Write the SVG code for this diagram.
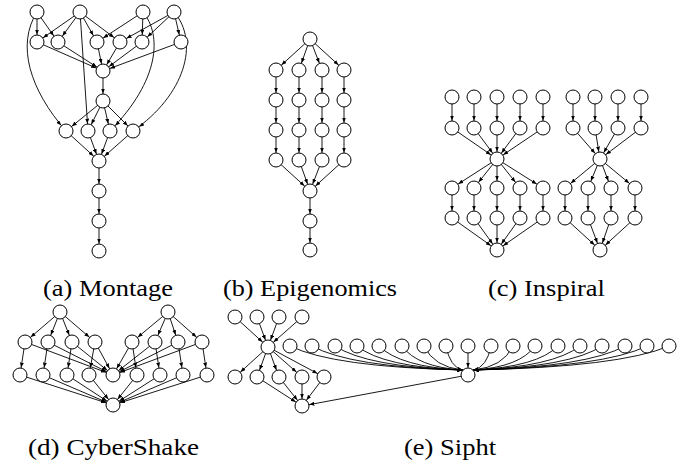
<svg xmlns="http://www.w3.org/2000/svg" width="699" height="464" viewBox="0 0 699 464">
<style>
.n circle{fill:#fff;stroke:#000;stroke-width:1}
#edges line,#edges path{stroke:#000;stroke-width:0.9;fill:none}
#edges .s{marker-end:url(#a)}
#edges .c{marker-end:url(#b)}
.cap{font-family:"Liberation Serif","DejaVu Serif",serif;font-size:23px;fill:#000}
</style>
<defs>
<marker id="a" viewBox="0 0 10 8" refX="25" refY="4" markerWidth="5" markerHeight="4" markerUnits="userSpaceOnUse" orient="auto"><path d="M0,0L10,4L0,8z" fill="#000"/></marker>
<marker id="b" viewBox="0 0 10 8" refX="10" refY="4" markerWidth="5" markerHeight="4" markerUnits="userSpaceOnUse" orient="auto"><path d="M0,0L10,4L0,8z" fill="#000"/></marker>
</defs>
<rect width="699" height="464" fill="#fff"/>
<g id="edges">
<!-- Montage -->
<line class="s" x1="37" y1="12" x2="37" y2="42"/>
<line class="s" x1="37" y1="12" x2="58" y2="42"/>
<line class="s" x1="80" y1="12" x2="37" y2="42"/>
<line class="s" x1="80" y1="12" x2="58" y2="42"/>
<line class="s" x1="80" y1="12" x2="97" y2="42"/>
<line class="s" x1="80" y1="12" x2="120" y2="42"/>
<line class="s" x1="143" y1="12" x2="97" y2="42"/>
<line class="s" x1="143" y1="12" x2="142" y2="42"/>
<line class="s" x1="174" y1="12" x2="120" y2="42"/>
<line class="s" x1="174" y1="12" x2="142" y2="42"/>
<line class="s" x1="174" y1="12" x2="181" y2="42"/>
<line class="s" x1="80" y1="12" x2="88" y2="131"/>
<path class="s" d="M37,12 C16,45 30,90 66,131"/>
<path class="s" d="M143,12 C162,35 160,80 110,131"/>
<path class="s" d="M174,12 C200,42 185,95 133,131"/>
<line class="s" x1="37" y1="42" x2="103" y2="71"/>
<line class="s" x1="58" y1="42" x2="103" y2="71"/>
<line class="s" x1="97" y1="42" x2="103" y2="71"/>
<line class="s" x1="120" y1="42" x2="103" y2="71"/>
<line class="s" x1="142" y1="42" x2="103" y2="71"/>
<line class="s" x1="181" y1="42" x2="103" y2="71"/>
<line class="s" x1="103" y1="71" x2="103" y2="101"/>
<line class="s" x1="103" y1="101" x2="66" y2="131"/>
<line class="s" x1="103" y1="101" x2="88" y2="131"/>
<line class="s" x1="103" y1="101" x2="110" y2="131"/>
<line class="s" x1="103" y1="101" x2="133" y2="131"/>
<line class="s" x1="66" y1="131" x2="99" y2="161"/>
<line class="s" x1="88" y1="131" x2="99" y2="161"/>
<line class="s" x1="110" y1="131" x2="99" y2="161"/>
<line class="s" x1="133" y1="131" x2="99" y2="161"/>
<line class="s" x1="99" y1="161" x2="99" y2="191"/>
<line class="s" x1="99" y1="191" x2="99" y2="221"/>
<line class="s" x1="99" y1="221" x2="99" y2="251"/>
<!-- Epigenomics -->
<line class="s" x1="310" y1="39" x2="276" y2="70"/>
<line class="s" x1="310" y1="39" x2="299" y2="70"/>
<line class="s" x1="310" y1="39" x2="322" y2="70"/>
<line class="s" x1="310" y1="39" x2="344" y2="70"/>
<line class="s" x1="276" y1="70" x2="276" y2="100"/>
<line class="s" x1="299" y1="70" x2="299" y2="100"/>
<line class="s" x1="322" y1="70" x2="322" y2="100"/>
<line class="s" x1="344" y1="70" x2="344" y2="100"/>
<line class="s" x1="276" y1="100" x2="276" y2="130"/>
<line class="s" x1="299" y1="100" x2="299" y2="130"/>
<line class="s" x1="322" y1="100" x2="322" y2="130"/>
<line class="s" x1="344" y1="100" x2="344" y2="130"/>
<line class="s" x1="276" y1="130" x2="276" y2="160"/>
<line class="s" x1="299" y1="130" x2="299" y2="160"/>
<line class="s" x1="322" y1="130" x2="322" y2="160"/>
<line class="s" x1="344" y1="130" x2="344" y2="160"/>
<line class="s" x1="276" y1="160" x2="310" y2="191"/>
<line class="s" x1="299" y1="160" x2="310" y2="191"/>
<line class="s" x1="322" y1="160" x2="310" y2="191"/>
<line class="s" x1="344" y1="160" x2="310" y2="191"/>
<line class="s" x1="310" y1="191" x2="310" y2="221"/>
<line class="s" x1="310" y1="221" x2="310" y2="250"/>
<!-- Inspiral 1 -->
<line class="s" x1="452" y1="97" x2="452" y2="128"/>
<line class="s" x1="474" y1="97" x2="474" y2="128"/>
<line class="s" x1="497" y1="97" x2="497" y2="128"/>
<line class="s" x1="520" y1="97" x2="520" y2="128"/>
<line class="s" x1="543" y1="97" x2="543" y2="128"/>
<line class="s" x1="452" y1="128" x2="497" y2="159"/>
<line class="s" x1="474" y1="128" x2="497" y2="159"/>
<line class="s" x1="497" y1="128" x2="497" y2="159"/>
<line class="s" x1="520" y1="128" x2="497" y2="159"/>
<line class="s" x1="543" y1="128" x2="497" y2="159"/>
<line class="s" x1="497" y1="159" x2="452" y2="188"/>
<line class="s" x1="497" y1="159" x2="474" y2="188"/>
<line class="s" x1="497" y1="159" x2="497" y2="188"/>
<line class="s" x1="497" y1="159" x2="520" y2="188"/>
<line class="s" x1="497" y1="159" x2="543" y2="188"/>
<line class="s" x1="452" y1="188" x2="452" y2="218"/>
<line class="s" x1="474" y1="188" x2="474" y2="218"/>
<line class="s" x1="497" y1="188" x2="497" y2="218"/>
<line class="s" x1="520" y1="188" x2="520" y2="218"/>
<line class="s" x1="543" y1="188" x2="543" y2="218"/>
<line class="s" x1="452" y1="218" x2="497" y2="250"/>
<line class="s" x1="474" y1="218" x2="497" y2="250"/>
<line class="s" x1="497" y1="218" x2="497" y2="250"/>
<line class="s" x1="520" y1="218" x2="497" y2="250"/>
<line class="s" x1="543" y1="218" x2="497" y2="250"/>
<!-- Inspiral 2 -->
<line class="s" x1="573" y1="97" x2="573" y2="128"/>
<line class="s" x1="595" y1="97" x2="595" y2="128"/>
<line class="s" x1="618" y1="97" x2="618" y2="128"/>
<line class="s" x1="641" y1="97" x2="641" y2="128"/>
<line class="s" x1="573" y1="128" x2="600" y2="159"/>
<line class="s" x1="595" y1="128" x2="600" y2="159"/>
<line class="s" x1="618" y1="128" x2="600" y2="159"/>
<line class="s" x1="641" y1="128" x2="600" y2="159"/>
<line class="s" x1="600" y1="159" x2="565" y2="188"/>
<line class="s" x1="600" y1="159" x2="588" y2="188"/>
<line class="s" x1="600" y1="159" x2="611" y2="188"/>
<line class="s" x1="600" y1="159" x2="635" y2="188"/>
<line class="s" x1="565" y1="188" x2="565" y2="218"/>
<line class="s" x1="588" y1="188" x2="588" y2="218"/>
<line class="s" x1="611" y1="188" x2="611" y2="218"/>
<line class="s" x1="635" y1="188" x2="635" y2="218"/>
<line class="s" x1="565" y1="218" x2="600" y2="250"/>
<line class="s" x1="588" y1="218" x2="600" y2="250"/>
<line class="s" x1="611" y1="218" x2="600" y2="250"/>
<line class="s" x1="635" y1="218" x2="600" y2="250"/>
<!-- CyberShake -->
<line class="s" x1="60" y1="312" x2="25" y2="342"/>
<line class="s" x1="60" y1="312" x2="48" y2="342"/>
<line class="s" x1="60" y1="312" x2="72" y2="342"/>
<line class="s" x1="60" y1="312" x2="95" y2="342"/>
<line class="s" x1="168" y1="312" x2="132" y2="342"/>
<line class="s" x1="168" y1="312" x2="155" y2="342"/>
<line class="s" x1="168" y1="312" x2="178" y2="342"/>
<line class="s" x1="168" y1="312" x2="202" y2="342"/>
<line class="s" x1="25" y1="342" x2="20" y2="375"/>
<line class="s" x1="48" y1="342" x2="43" y2="375"/>
<line class="s" x1="72" y1="342" x2="67" y2="375"/>
<line class="s" x1="95" y1="342" x2="89" y2="375"/>
<line class="s" x1="132" y1="342" x2="137" y2="375"/>
<line class="s" x1="155" y1="342" x2="160" y2="375"/>
<line class="s" x1="178" y1="342" x2="183" y2="375"/>
<line class="s" x1="202" y1="342" x2="207" y2="375"/>
<line class="s" x1="25" y1="342" x2="113" y2="375"/>
<line class="s" x1="48" y1="342" x2="113" y2="375"/>
<line class="s" x1="72" y1="342" x2="113" y2="375"/>
<line class="s" x1="95" y1="342" x2="113" y2="375"/>
<line class="s" x1="132" y1="342" x2="113" y2="375"/>
<line class="s" x1="155" y1="342" x2="113" y2="375"/>
<line class="s" x1="178" y1="342" x2="113" y2="375"/>
<line class="s" x1="202" y1="342" x2="113" y2="375"/>
<line class="s" x1="20" y1="375" x2="113" y2="405"/>
<line class="s" x1="43" y1="375" x2="113" y2="405"/>
<line class="s" x1="67" y1="375" x2="113" y2="405"/>
<line class="s" x1="89" y1="375" x2="113" y2="405"/>
<line class="s" x1="137" y1="375" x2="113" y2="405"/>
<line class="s" x1="160" y1="375" x2="113" y2="405"/>
<line class="s" x1="183" y1="375" x2="113" y2="405"/>
<line class="s" x1="207" y1="375" x2="113" y2="405"/>
<!-- Sipht -->
<line class="s" x1="235" y1="317" x2="268" y2="347"/>
<line class="s" x1="257" y1="317" x2="268" y2="347"/>
<line class="s" x1="279" y1="317" x2="268" y2="347"/>
<line class="s" x1="302" y1="317" x2="268" y2="347"/>
<line class="s" x1="268" y1="347" x2="235" y2="377"/>
<line class="s" x1="268" y1="347" x2="257" y2="377"/>
<line class="s" x1="268" y1="347" x2="279" y2="377"/>
<line class="s" x1="268" y1="347" x2="302" y2="377"/>
<line class="s" x1="268" y1="347" x2="324" y2="377"/>
<line class="s" x1="257" y1="377" x2="302" y2="406"/>
<line class="s" x1="279" y1="377" x2="302" y2="406"/>
<line class="s" x1="302" y1="377" x2="302" y2="406"/>
<line class="s" x1="324" y1="377" x2="302" y2="406"/>
<line class="s" x1="468" y1="375" x2="302" y2="406"/>
<path class="c" d="M290,346 Q333,367 462.5,370"/>
<path class="c" d="M312,346 Q350,367 462.5,370"/>
<path class="c" d="M335,346 Q367,367 462.5,370"/>
<path class="c" d="M357,346 Q383,367 462.5,370"/>
<path class="c" d="M379,346 Q400,367 462.5,370"/>
<path class="c" d="M402,346 Q417,367 462.5,370"/>
<path class="c" d="M424,346 Q434,367 462.5,370"/>
<path class="c" d="M446,346 Q450,367 462.5,370"/>
<line class="s" x1="468" y1="346" x2="468" y2="375"/>
<path class="c" d="M491,346 Q487,367 473.5,370"/>
<path class="c" d="M513,346 Q503,367 473.5,370"/>
<path class="c" d="M535,346 Q520,367 473.5,370"/>
<path class="c" d="M558,346 Q537,367 473.5,370"/>
<path class="c" d="M580,346 Q553,367 473.5,370"/>
<path class="c" d="M602,346 Q570,367 473.5,370"/>
<path class="c" d="M625,346 Q587,367 473.5,370"/>
<path class="c" d="M647,346 Q604,367 473.5,370"/>
<path class="c" d="M669,346 Q620,367 473.5,370"/>
</g>
<g class="n">
<g id="mt1"><circle cx="37" cy="12" r="7"/></g>
<g id="mt2"><circle cx="80" cy="12" r="7"/></g>
<g id="mt3"><circle cx="143" cy="12" r="7"/></g>
<g id="mt4"><circle cx="174" cy="12" r="7"/></g>
<g id="ma1"><circle cx="37" cy="42" r="7"/></g>
<g id="ma2"><circle cx="58" cy="42" r="7"/></g>
<g id="ma3"><circle cx="97" cy="42" r="7"/></g>
<g id="ma4"><circle cx="120" cy="42" r="7"/></g>
<g id="ma5"><circle cx="142" cy="42" r="7"/></g>
<g id="ma6"><circle cx="181" cy="42" r="7"/></g>
<g id="mc"><circle cx="103" cy="71" r="7"/></g>
<g id="md"><circle cx="103" cy="101" r="7"/></g>
<g id="mb1"><circle cx="66" cy="131" r="7"/></g>
<g id="mb2"><circle cx="88" cy="131" r="7"/></g>
<g id="mb3"><circle cx="110" cy="131" r="7"/></g>
<g id="mb4"><circle cx="133" cy="131" r="7"/></g>
<g id="me"><circle cx="99" cy="161" r="7"/></g>
<g id="mf"><circle cx="99" cy="191" r="7"/></g>
<g id="mg"><circle cx="99" cy="221" r="7"/></g>
<g id="mh"><circle cx="99" cy="251" r="7"/></g>

<g id="e0"><circle cx="310" cy="39" r="7"/></g>
<g id="e11"><circle cx="276" cy="70" r="7"/></g>
<g id="e12"><circle cx="299" cy="70" r="7"/></g>
<g id="e13"><circle cx="322" cy="70" r="7"/></g>
<g id="e14"><circle cx="344" cy="70" r="7"/></g>
<g id="e21"><circle cx="276" cy="100" r="7"/></g>
<g id="e22"><circle cx="299" cy="100" r="7"/></g>
<g id="e23"><circle cx="322" cy="100" r="7"/></g>
<g id="e24"><circle cx="344" cy="100" r="7"/></g>
<g id="e31"><circle cx="276" cy="130" r="7"/></g>
<g id="e32"><circle cx="299" cy="130" r="7"/></g>
<g id="e33"><circle cx="322" cy="130" r="7"/></g>
<g id="e34"><circle cx="344" cy="130" r="7"/></g>
<g id="e41"><circle cx="276" cy="160" r="7"/></g>
<g id="e42"><circle cx="299" cy="160" r="7"/></g>
<g id="e43"><circle cx="322" cy="160" r="7"/></g>
<g id="e44"><circle cx="344" cy="160" r="7"/></g>
<g id="e5"><circle cx="310" cy="191" r="7"/></g>
<g id="e6"><circle cx="310" cy="221" r="7"/></g>
<g id="e7"><circle cx="310" cy="250" r="7"/></g>

<g id="i11"><circle cx="452" cy="97" r="7"/></g>
<g id="i12"><circle cx="474" cy="97" r="7"/></g>
<g id="i13"><circle cx="497" cy="97" r="7"/></g>
<g id="i14"><circle cx="520" cy="97" r="7"/></g>
<g id="i15"><circle cx="543" cy="97" r="7"/></g>
<g id="i21"><circle cx="452" cy="128" r="7"/></g>
<g id="i22"><circle cx="474" cy="128" r="7"/></g>
<g id="i23"><circle cx="497" cy="128" r="7"/></g>
<g id="i24"><circle cx="520" cy="128" r="7"/></g>
<g id="i25"><circle cx="543" cy="128" r="7"/></g>
<g id="i3"><circle cx="497" cy="159" r="7"/></g>
<g id="i41"><circle cx="452" cy="188" r="7"/></g>
<g id="i42"><circle cx="474" cy="188" r="7"/></g>
<g id="i43"><circle cx="497" cy="188" r="7"/></g>
<g id="i44"><circle cx="520" cy="188" r="7"/></g>
<g id="i45"><circle cx="543" cy="188" r="7"/></g>
<g id="i51"><circle cx="452" cy="218" r="7"/></g>
<g id="i52"><circle cx="474" cy="218" r="7"/></g>
<g id="i53"><circle cx="497" cy="218" r="7"/></g>
<g id="i54"><circle cx="520" cy="218" r="7"/></g>
<g id="i55"><circle cx="543" cy="218" r="7"/></g>
<g id="i6"><circle cx="497" cy="250" r="7"/></g>

<g id="j11"><circle cx="573" cy="97" r="7"/></g>
<g id="j12"><circle cx="595" cy="97" r="7"/></g>
<g id="j13"><circle cx="618" cy="97" r="7"/></g>
<g id="j14"><circle cx="641" cy="97" r="7"/></g>
<g id="j21"><circle cx="573" cy="128" r="7"/></g>
<g id="j22"><circle cx="595" cy="128" r="7"/></g>
<g id="j23"><circle cx="618" cy="128" r="7"/></g>
<g id="j24"><circle cx="641" cy="128" r="7"/></g>
<g id="j3"><circle cx="600" cy="159" r="7"/></g>
<g id="j41"><circle cx="565" cy="188" r="7"/></g>
<g id="j42"><circle cx="588" cy="188" r="7"/></g>
<g id="j43"><circle cx="611" cy="188" r="7"/></g>
<g id="j44"><circle cx="635" cy="188" r="7"/></g>
<g id="j51"><circle cx="565" cy="218" r="7"/></g>
<g id="j52"><circle cx="588" cy="218" r="7"/></g>
<g id="j53"><circle cx="611" cy="218" r="7"/></g>
<g id="j54"><circle cx="635" cy="218" r="7"/></g>
<g id="j6"><circle cx="600" cy="250" r="7"/></g>

<g id="c01"><circle cx="60" cy="312" r="7"/></g>
<g id="c02"><circle cx="168" cy="312" r="7"/></g>
<g id="c11"><circle cx="25" cy="342" r="7"/></g>
<g id="c12"><circle cx="48" cy="342" r="7"/></g>
<g id="c13"><circle cx="72" cy="342" r="7"/></g>
<g id="c14"><circle cx="95" cy="342" r="7"/></g>
<g id="c15"><circle cx="132" cy="342" r="7"/></g>
<g id="c16"><circle cx="155" cy="342" r="7"/></g>
<g id="c17"><circle cx="178" cy="342" r="7"/></g>
<g id="c18"><circle cx="202" cy="342" r="7"/></g>
<g id="c21"><circle cx="20" cy="375" r="7"/></g>
<g id="c22"><circle cx="43" cy="375" r="7"/></g>
<g id="c23"><circle cx="67" cy="375" r="7"/></g>
<g id="c24"><circle cx="89" cy="375" r="7"/></g>
<g id="c25"><circle cx="113" cy="375" r="7"/></g>
<g id="c26"><circle cx="137" cy="375" r="7"/></g>
<g id="c27"><circle cx="160" cy="375" r="7"/></g>
<g id="c28"><circle cx="183" cy="375" r="7"/></g>
<g id="c29"><circle cx="207" cy="375" r="7"/></g>
<g id="c3"><circle cx="113" cy="405" r="7"/></g>

<g id="s01"><circle cx="235" cy="317" r="7"/></g>
<g id="s02"><circle cx="257" cy="317" r="7"/></g>
<g id="s03"><circle cx="279" cy="317" r="7"/></g>
<g id="s04"><circle cx="302" cy="317" r="7"/></g>
<g id="sh"><circle cx="268" cy="347" r="7"/></g>
<g id="sr01"><circle cx="290" cy="346" r="7"/></g>
<g id="sr02"><circle cx="312" cy="346" r="7"/></g>
<g id="sr03"><circle cx="335" cy="346" r="7"/></g>
<g id="sr04"><circle cx="357" cy="346" r="7"/></g>
<g id="sr05"><circle cx="379" cy="346" r="7"/></g>
<g id="sr06"><circle cx="402" cy="346" r="7"/></g>
<g id="sr07"><circle cx="424" cy="346" r="7"/></g>
<g id="sr08"><circle cx="446" cy="346" r="7"/></g>
<g id="sr09"><circle cx="468" cy="346" r="7"/></g>
<g id="sr10"><circle cx="491" cy="346" r="7"/></g>
<g id="sr11"><circle cx="513" cy="346" r="7"/></g>
<g id="sr12"><circle cx="535" cy="346" r="7"/></g>
<g id="sr13"><circle cx="558" cy="346" r="7"/></g>
<g id="sr14"><circle cx="580" cy="346" r="7"/></g>
<g id="sr15"><circle cx="602" cy="346" r="7"/></g>
<g id="sr16"><circle cx="625" cy="346" r="7"/></g>
<g id="sr17"><circle cx="647" cy="346" r="7"/></g>
<g id="sr18"><circle cx="669" cy="346" r="7"/></g>
<g id="ssink"><circle cx="468" cy="375" r="7"/></g>
<g id="s11"><circle cx="235" cy="377" r="7"/></g>
<g id="s12"><circle cx="257" cy="377" r="7"/></g>
<g id="s13"><circle cx="279" cy="377" r="7"/></g>
<g id="s14"><circle cx="302" cy="377" r="7"/></g>
<g id="s15"><circle cx="324" cy="377" r="7"/></g>
<g id="sb"><circle cx="302" cy="406" r="7"/></g>
</g>
<g id="captions">
<text class="cap" x="43" y="296" textLength="130" lengthAdjust="spacingAndGlyphs">(a) Montage</text>
<text class="cap" x="223" y="296" textLength="174" lengthAdjust="spacingAndGlyphs">(b) Epigenomics</text>
<text class="cap" x="488" y="296" textLength="117" lengthAdjust="spacingAndGlyphs">(c) Inspiral</text>
<text class="cap" x="28" y="455" textLength="171" lengthAdjust="spacingAndGlyphs">(d) CyberShake</text>
<text class="cap" x="404" y="455" textLength="92" lengthAdjust="spacingAndGlyphs">(e) Sipht</text>
</g>
</svg>
